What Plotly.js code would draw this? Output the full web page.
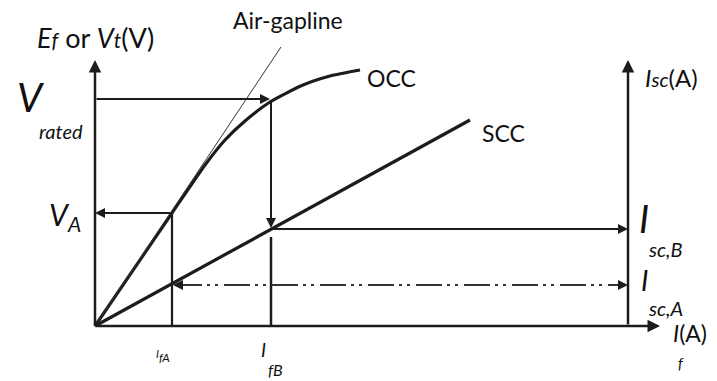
<!DOCTYPE html>
<html><head><meta charset="utf-8">
<script src="https://cdn.plot.ly/plotly-3.0.1.min.js"></script>
<style>html,body{margin:0;padding:0;background:#fff}</style>
</head><body><div id="chart" style="width:717px;height:381px"></div>
<script>
// ---- values (field current If, EMF Ef, short-circuit current Isc), arbitrary units ----
const occIf = [0, 77, 110, 130, 150, 175, 208, 235, 265];
const occEf = [0, 113, 161, 186, 205, 224, 241, 250, 256];
const airIf = [0, 186];
const airEf = [0, 279];
const sccIf = [0, 375];
const sccIsc = [0, 206];
const IfA = 77, IfB = 176;
const VA = 113, Vrated = 227;
const IscA = 41, IscB = 97;
const IfAxisEnd = 565, EAxisTop = 266, IscAxisAt = 533, IscAxisTop = 266;

const C = '#1c1c1c';
const FONT = 'Lato, "Open Sans", sans-serif';

const traces = [
  {x: occIf, y: occEf, mode: 'lines', line: {color: C, width: 3.2, shape: 'spline', smoothing: 0.6}},
  {x: airIf, y: airEf, mode: 'lines', line: {color: '#333', width: 1}},
  {x: sccIf, y: sccIsc, mode: 'lines', line: {color: C, width: 3.2}},
  {x: [IfA, IfA], y: [0, VA], mode: 'lines', line: {color: C, width: 2.2}},
  {x: [IfB, IfB], y: [0, IscB - 8], mode: 'lines', line: {color: C, width: 2.5}},
  {x: [IfA + 4, IscAxisAt - 4], y: [IscA, IscA], mode: 'lines', line: {color: '#333', width: 2, dash: '26px,5px,3px,5px,3px,6px'}},
  {x: [0, 0], y: [0, EAxisTop - 6], mode: 'lines', line: {color: C, width: 2.5}},
];

function arrow(x0, y0, x1, y1, w) {
  return {x: x1, y: y1, ax: x0, ay: y0, xref: 'x', yref: 'y', axref: 'x', ayref: 'y',
    text: '', showarrow: true, arrowhead: 2, arrowsize: 1, arrowwidth: w || 2,
    arrowcolor: C, standoff: 0, startstandoff: 0};
}
function label(x, y, text, size, extra) {
  return Object.assign({x: x, y: y, xref: 'x', yref: 'y', text: text, showarrow: false,
    font: {family: FONT, size: size, color: '#111'}, xanchor: 'center', yanchor: 'middle'}, extra || {});
}

const annotations = [
  arrow(0, EAxisTop - 10, 0, EAxisTop, 2.5),
  arrow(0, 0, IfAxisEnd, 0, 2.5),
  arrow(IscAxisAt, 0, IscAxisAt, IscAxisTop, 2.5),
  arrow(0, Vrated, IfB - 1, Vrated, 2),
  arrow(IfB, Vrated, IfB, IscB + 1, 2),
  arrow(IfB, IscB, IscAxisAt, IscB, 2),
  arrow(IfA, VA, 0, VA, 2),
  arrow(IfA + 12, IscA, IfA + 1, IscA, 2),
  arrow(IscAxisAt - 12, IscA, IscAxisAt, IscA, 2),
  label(0, 289, '<i>E</i><span style="font-size:21px"><i>f</i></span> or <i>V</i><span style="font-size:21px"><i>t</i></span>(V)', 27),
  label(193, 306, 'Air-gapline', 23),
  label(296, 248, 'OCC', 23),
  label(408, 193, 'SCC', 23),
  label(576, 249, '<i>I<span style="font-size:20px">sc</span></i>(A)', 24),
  label(-64, 229, '<i>V</i>', 40),
  label(-34, 195, '<i>rated</i>', 20),
  label(-30, 110, '<i>V<sub>A</sub></i>', 30),
  label(549, 108, '<i>I</i>', 38),
  label(570, 77, '<i>sc,B</i>', 20),
  label(549, 46, '<i>I</i>', 28),
  label(570, 18, '<i>sc,A</i>', 20),
  label(595, -7, '<i>I</i>(A)', 23),
  label(586, -37, '<i>f</i>', 15),
  label(68, -30, '<span style="font-size:11px"><i>I</i></span><sub><i>fA</i></sub>', 17),
  label(168, -23, '<i>I</i>', 19),
  label(180, -43, '<i>fB</i>', 16),
];

const layout = {
  width: 717, height: 381, margin: {l: 0, r: 0, t: 0, b: 0},
  paper_bgcolor: '#fff', plot_bgcolor: '#fff', showlegend: false,
  xaxis: {range: [-95, 622], visible: false, fixedrange: true},
  yaxis: {range: [-55, 326], visible: false, fixedrange: true},
  annotations: annotations
};
Plotly.newPlot('chart', traces, layout, {staticPlot: true, displayModeBar: false});
</script></body></html>
